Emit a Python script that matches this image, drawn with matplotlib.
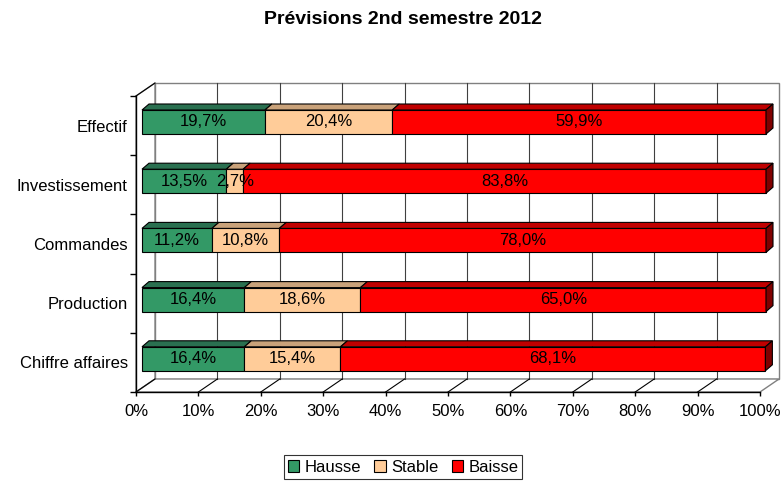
import matplotlib
matplotlib.use("Agg")
import matplotlib.pyplot as plt
from matplotlib.patches import Polygon, Patch

plt.rcParams['font.family'] = ['Liberation Sans', 'DejaVu Sans']

# data (bottom to top)
categories = ['Chiffre affaires', 'Production', 'Commandes', 'Investissement', 'Effectif']
hausse = [16.4, 16.4, 11.2, 13.5, 19.7]
stable = [15.4, 18.6, 10.8, 2.7, 20.4]
baisse = [68.1, 65.0, 78.0, 83.8, 59.9]
series_names = ['Hausse', 'Stable', 'Baisse']
ticks_x = list(range(0, 101, 10))

front = ['#339966', '#FFCC99', '#FF0000']
top = ['#2a7050', '#c9a27a', '#c00000']
side = '#800000'

fig = plt.figure(figsize=(7.84, 4.83), dpi=100)
# front plane of the 3D box: px 136..760 horizontally, 96..392 vertically
ax = fig.add_axes([136 / 784, (483 - 392) / 483, 624 / 784, 296 / 483])
ax.set_xlim(0, 100)
ax.set_ylim(0, len(categories))

pxx = 100 / 624.0
pxy = len(categories) / 296.0
DX, DY = 19 * pxx, 13 * pxy          # wall depth
BX0, BY0 = 6 * pxx, 3.6 * pxy         # bar front offset
BX, BY = 7 * pxx, 6 * pxy             # bar depth
H = 24 * pxy

n = len(categories)
grey = '#808080'

def poly(pts, fc, ec, lw=0.8, z=1):
    ax.add_patch(Polygon(pts, closed=True, facecolor=fc, edgecolor=ec, lw=lw,
                         zorder=z, clip_on=False))

# back wall, left wall, floor
poly([(DX, DY), (100 + DX, DY), (100 + DX, n + DY), (DX, n + DY)], 'white', grey, 1.0, 0)
poly([(0, 0), (DX, DY), (DX, n + DY), (0, n)], 'white', grey, 1.0, 0)
poly([(0, 0), (100, 0), (100 + DX, DY), (DX, DY)], 'white', grey, 1.0, 0)
for t in ticks_x[1:-1]:
    ax.plot([t + DX, t + DX], [DY, n + DY], color='#404040', lw=0.8, zorder=0.5, clip_on=False)
for t in ticks_x[:-1]:
    ax.plot([t, t + DX], [0, DY], color='black', lw=0.8, zorder=0.5, clip_on=False)
ax.plot([0, DX], [n, n + DY], color='black', lw=0.8, zorder=0.5, clip_on=False)

# bars
for i in range(n):
    vals = [hausse[i], stable[i], baisse[i]]
    yb = i + 0.5 + BY0 - H / 2
    yt = yb + H
    x0 = 0
    for k, v in enumerate(vals):
        x1 = x0 + v
        a, b = x0 + BX0, x1 + BX0
        poly([(a, yb), (b, yb), (b, yt), (a, yt)], front[k], 'black', 0.8, 3)
        poly([(a, yt), (b, yt), (b + BX, yt + BY), (a + BX, yt + BY)], top[k], 'black', 0.8, 3)
        if k == len(vals) - 1:
            poly([(b, yb), (b + BX, yb + BY), (b + BX, yt + BY), (b, yt)], side, 'black', 0.8, 3)
        lab = f"{v:.1f}".replace('.', ',') + '%'
        ax.text((a + b) / 2, (yb + yt) / 2, lab, ha='center', va='center',
                fontsize=12, zorder=4)
        x0 = x1

# axes
for s in ['top', 'right']:
    ax.spines[s].set_visible(False)
ax.spines['left'].set_linewidth(1.0)
ax.spines['bottom'].set_linewidth(1.0)
ax.spines['left'].set_zorder(2)
ax.spines['bottom'].set_zorder(2)
ax.patch.set_visible(False)
ax.set_xticks(ticks_x)
ax.set_xticklabels([f"{t}%" for t in ticks_x], fontsize=12)
ax.set_yticks([i + 0.5 for i in range(n)])
ax.set_yticklabels(categories, fontsize=12)
ax.set_yticks(range(n + 1), minor=True)
ax.tick_params(axis='y', which='major', length=0, pad=6)
ax.tick_params(axis='y', which='minor', length=4, width=1)
ax.tick_params(axis='x', length=3, width=1, pad=6)

fig.text(403 / 784, 1 - 20 / 483, 'Prévisions 2nd semestre 2012', ha='center', va='center',
         fontsize=14, fontweight='bold')

handles = [Patch(facecolor=front[k], edgecolor='black', lw=0.8) for k in range(3)]
leg = fig.legend(handles, series_names, loc='center', bbox_to_anchor=(403 / 784, 1 - 467 / 483),
                 ncol=3, fontsize=12, frameon=True, fancybox=False, handlelength=0.7,
                 handleheight=0.7, handletextpad=0.3, columnspacing=0.8, borderpad=0.25,
                 borderaxespad=0)
leg.get_frame().set_edgecolor('black')
leg.get_frame().set_linewidth(0.8)

fig.savefig('out.png', dpi=100)
